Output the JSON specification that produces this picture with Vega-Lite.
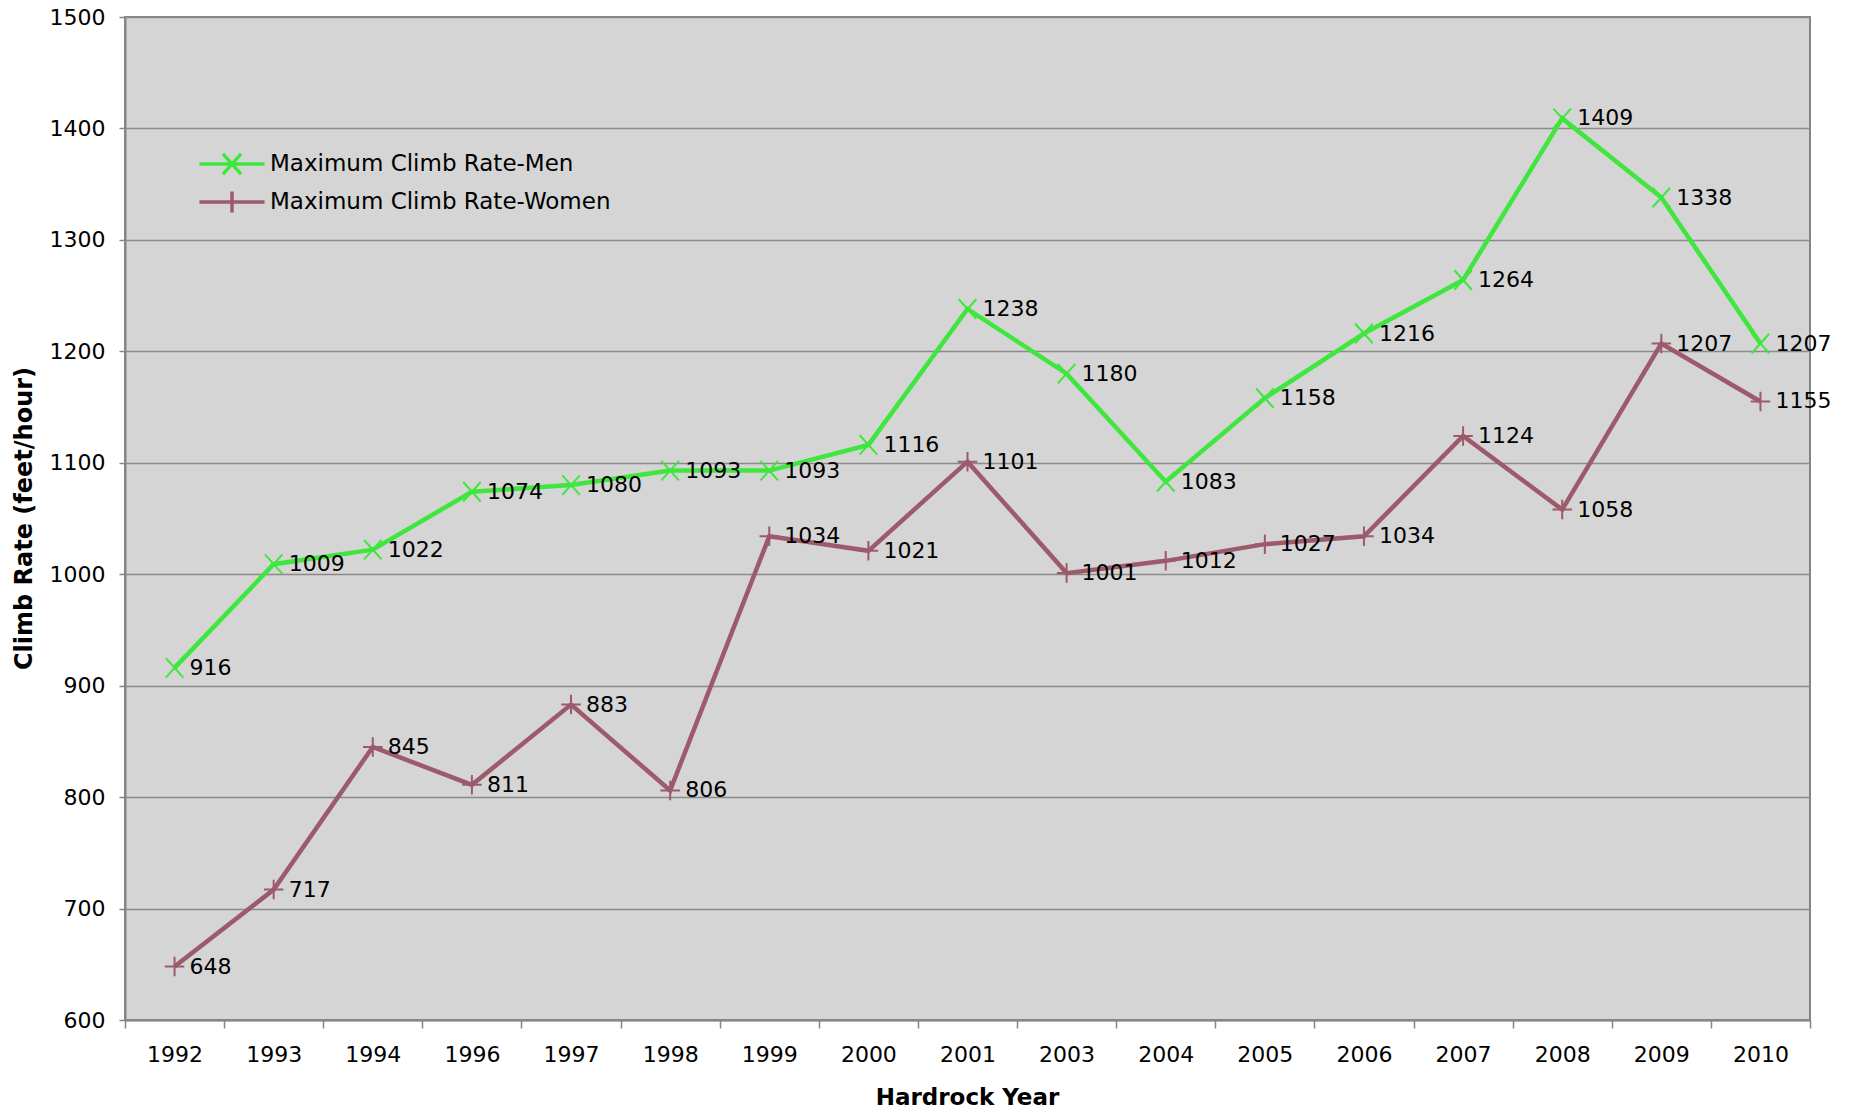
{
  "$schema": "https://vega.github.io/schema/vega-lite/v6.json",
  "autosize": "none",
  "width": 1685,
  "height": 1003,
  "padding": {"left": 125, "top": 17, "right": 46, "bottom": 92},
  "background": "white",
  "config": {
    "font": "DejaVu Sans",
    "view": {"fill": "#d5d5d5", "stroke": "#858585", "strokeWidth": 2}
  },
  "data": {
    "values": [
      {"year": "1992", "series": "Maximum Climb Rate-Men", "value": 916},
      {"year": "1993", "series": "Maximum Climb Rate-Men", "value": 1009},
      {"year": "1994", "series": "Maximum Climb Rate-Men", "value": 1022},
      {"year": "1996", "series": "Maximum Climb Rate-Men", "value": 1074},
      {"year": "1997", "series": "Maximum Climb Rate-Men", "value": 1080},
      {"year": "1998", "series": "Maximum Climb Rate-Men", "value": 1093},
      {"year": "1999", "series": "Maximum Climb Rate-Men", "value": 1093},
      {"year": "2000", "series": "Maximum Climb Rate-Men", "value": 1116},
      {"year": "2001", "series": "Maximum Climb Rate-Men", "value": 1238},
      {"year": "2003", "series": "Maximum Climb Rate-Men", "value": 1180},
      {"year": "2004", "series": "Maximum Climb Rate-Men", "value": 1083},
      {"year": "2005", "series": "Maximum Climb Rate-Men", "value": 1158},
      {"year": "2006", "series": "Maximum Climb Rate-Men", "value": 1216},
      {"year": "2007", "series": "Maximum Climb Rate-Men", "value": 1264},
      {"year": "2008", "series": "Maximum Climb Rate-Men", "value": 1409},
      {"year": "2009", "series": "Maximum Climb Rate-Men", "value": 1338},
      {"year": "2010", "series": "Maximum Climb Rate-Men", "value": 1207},
      {"year": "1992", "series": "Maximum Climb Rate-Women", "value": 648},
      {"year": "1993", "series": "Maximum Climb Rate-Women", "value": 717},
      {"year": "1994", "series": "Maximum Climb Rate-Women", "value": 845},
      {"year": "1996", "series": "Maximum Climb Rate-Women", "value": 811},
      {"year": "1997", "series": "Maximum Climb Rate-Women", "value": 883},
      {"year": "1998", "series": "Maximum Climb Rate-Women", "value": 806},
      {"year": "1999", "series": "Maximum Climb Rate-Women", "value": 1034},
      {"year": "2000", "series": "Maximum Climb Rate-Women", "value": 1021},
      {"year": "2001", "series": "Maximum Climb Rate-Women", "value": 1101},
      {"year": "2003", "series": "Maximum Climb Rate-Women", "value": 1001},
      {"year": "2004", "series": "Maximum Climb Rate-Women", "value": 1012},
      {"year": "2005", "series": "Maximum Climb Rate-Women", "value": 1027},
      {"year": "2006", "series": "Maximum Climb Rate-Women", "value": 1034},
      {"year": "2007", "series": "Maximum Climb Rate-Women", "value": 1124},
      {"year": "2008", "series": "Maximum Climb Rate-Women", "value": 1058},
      {"year": "2009", "series": "Maximum Climb Rate-Women", "value": 1207},
      {"year": "2010", "series": "Maximum Climb Rate-Women", "value": 1155}
    ]
  },
  "encoding": {
    "x": {
      "field": "year", "type": "ordinal", "bandPosition": 0.5,
      "scale": {"type": "band", "paddingInner": 0, "paddingOuter": 0},
      "axis": {
        "title": "Hardrock Year", "titleFontSize": 23, "titleFontWeight": "bold", "titleColor": "black",
        "titleX": 842, "titleY": 77, "titleBaseline": "middle",
        "labelAngle": 0, "labelFontSize": 22, "labelColor": "black", "labelBaseline": "middle", "labelPadding": 26,
        "tickBand": "extent", "tickSize": 8, "tickColor": "#858585", "tickWidth": 1.5,
        "domainColor": "#858585", "domainWidth": 2, "grid": false
      }
    },
    "y": {
      "field": "value", "type": "quantitative",
      "scale": {"domain": [600, 1500], "nice": false, "zero": false},
      "axis": {
        "title": "Climb Rate (feet/hour)", "titleFontSize": 24, "titleFontWeight": "bold", "titleColor": "black",
        "titleX": -101, "titleY": 501, "titleAngle": -90, "titleAlign": "center", "titleBaseline": "middle",
        "values": [600, 700, 800, 900, 1000, 1100, 1200, 1300, 1400, 1500], "format": "d",
        "labelFontSize": 22, "labelColor": "black", "labelPadding": 14,
        "tickSize": 6, "tickColor": "#858585", "tickWidth": 1.5,
        "domainColor": "#858585", "domainWidth": 2,
        "grid": true, "gridColor": "#8a8a8a", "gridWidth": 1.5
      }
    },
    "color": {
      "field": "series", "type": "nominal",
      "scale": {"domain": ["Maximum Climb Rate-Men", "Maximum Climb Rate-Women"], "range": ["#3ee63e", "#9c5a6c"]}
    }
  },
  "layer": [
    {
      "mark": {"type": "line", "strokeWidth": 4.5},
      "encoding": {
        "color": {
          "field": "series", "type": "nominal",
          "legend": {
            "title": null, "orient": "none", "legendX": 90, "legendY": 130,
            "labelFontSize": 23, "labelColor": "black", "labelOffset": 21, "labelLimit": 0,
            "symbolSize": 900, "symbolStrokeWidth": 3.5, "rowPadding": 2, "padding": 0,
            "encode": {
              "symbols": {
                "update": {
                  "shape": {"signal": "datum.value === 'Maximum Climb Rate-Men' ? 'M-2.17,0L2.17,0M-0.6,-0.67L0.6,0.67M-0.6,0.67L0.6,-0.67' : 'M-2.17,0L2.17,0M0,-0.7L0,0.7'"}
                }
              }
            }
          }
        }
      }
    },
    {
      "transform": [{"filter": "datum.series === 'Maximum Climb Rate-Men'"}],
      "mark": {"type": "point", "filled": false, "strokeWidth": 2, "size": 380, "opacity": 1, "shape": "M-0.9,-1L0.9,1M-0.9,1L0.9,-1"},
      "encoding": {"color": {"field": "series", "type": "nominal", "legend": null}}
    },
    {
      "transform": [{"filter": "datum.series === 'Maximum Climb Rate-Women'"}],
      "mark": {"type": "point", "filled": false, "strokeWidth": 2, "size": 380, "opacity": 1, "shape": "M-1,0L1,0M0,-1L0,1"},
      "encoding": {"color": {"field": "series", "type": "nominal", "legend": null}}
    },
    {
      "mark": {"type": "text", "align": "left", "baseline": "middle", "dx": 15, "fontSize": 22, "color": "black"},
      "encoding": {
        "text": {"field": "value", "type": "quantitative"},
        "color": {"value": "black"}
      }
    }
  ]
}
